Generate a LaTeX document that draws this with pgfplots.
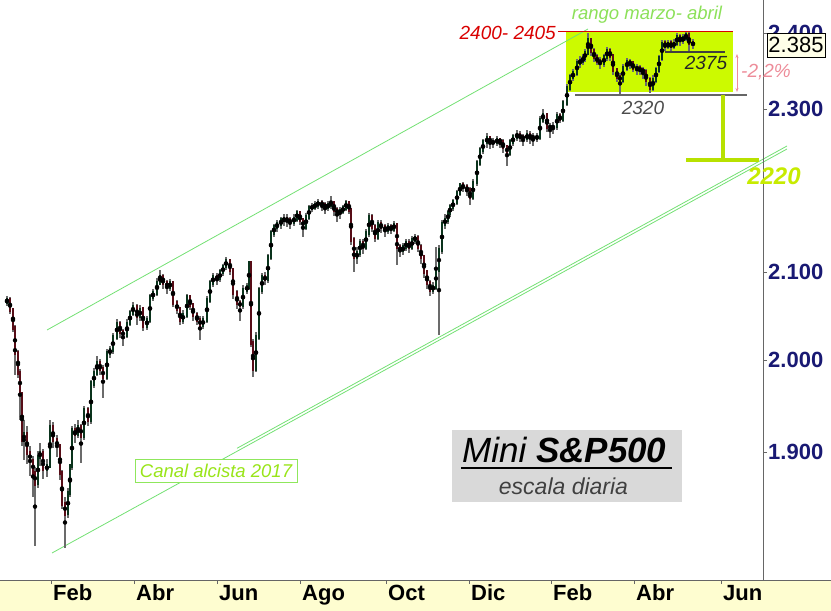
\documentclass[border=0pt]{standalone}
\usepackage{pgfplots}
\pgfplotsset{compat=1.18}
\usepackage{pgfplotstable}
\usepackage{fontspec}
\setmainfont{Liberation Sans}
\usetikzlibrary{arrows.meta}
\pgfdeclarelayer{bg}
\pgfsetlayers{bg,main}
\definecolor{band}{RGB}{254,253,208}
\definecolor{upc}{rgb}{0.04,0.20,0.11}
\definecolor{dnc}{rgb}{0.34,0.05,0.09}
\definecolor{wick}{rgb}{0.42,0.42,0.42}
\definecolor{navy}{rgb}{0.10,0.10,0.45}
\definecolor{chan}{rgb}{0.45,0.88,0.45}
\definecolor{lime}{RGB}{204,250,0}
\definecolor{limetxt}{rgb}{0.78,0.92,0.0}
\definecolor{canaltxt}{rgb}{0.60,0.90,0.10}
\definecolor{rangotxt}{rgb}{0.55,0.88,0.35}
\definecolor{pinkc}{rgb}{0.93,0.55,0.60}
\definecolor{boxgray}{rgb}{0.85,0.85,0.85}
\definecolor{pricebox}{RGB}{255,255,232}

% daily candles: x = session position, o h l c = open high low close
\pgfplotstableread{
x o h l c
7 2065 2073 2061 2068
10 2068 2071 2052 2057
13 2057 2059 2031 2036
15 2036 2039 1983 2008
18 2008 2011 1980 1986
20 1986 1990 1934 1963
22 1963 1965 1906 1913
24 1913 1934 1892 1919
27 1919 1928 1887 1899
30 1899 1906 1875 1891
33 1891 1896 1853 1878
35 1878 1884 1803 1867
38 1867 1901 1862 1895
40 1895 1910 1885 1899
43 1899 1903 1872 1882
47 1882 1893 1874 1885
50 1885 1934 1883 1927
53 1927 1932 1904 1913
57 1913 1918 1895 1906
60 1906 1909 1870 1878
62 1878 1881 1841 1846
65 1846 1853 1801 1836
68 1836 1862 1831 1857
70 1857 1887 1853 1885
72 1885 1928 1881 1923
75 1923 1930 1910 1919
78 1919 1934 1915 1927
81 1927 1930 1888 1917
84 1917 1950 1913 1945
88 1945 1949 1928 1934
91 1934 1978 1930 1974
94 1974 1991 1969 1986
97 1986 2004 1982 1997
100 1997 2001 1983 1990
103 1990 1994 1958 1981
107 1981 2012 1978 2008
110 2008 2016 2002 2011
113 2011 2030 2006 2026
117 2026 2046 2022 2041
120 2041 2044 2025 2031
123 2031 2035 2016 2028
127 2028 2046 2025 2041
130 2041 2057 2038 2053
133 2053 2066 2049 2060
137 2060 2063 2039 2049
140 2049 2062 2044 2057
143 2057 2060 2032 2038
147 2038 2050 2034 2045
150 2045 2075 2042 2071
153 2071 2081 2067 2076
157 2076 2093 2073 2088
160 2088 2103 2085 2095
163 2095 2098 2081 2088
167 2088 2091 2075 2083
170 2083 2092 2078 2088
173 2088 2090 2060 2064
177 2064 2068 2052 2057
180 2057 2060 2039 2045
183 2045 2056 2040 2051
187 2051 2075 2047 2071
190 2071 2073 2056 2062
193 2062 2065 2044 2051
197 2051 2054 2039 2045
200 2045 2049 2022 2039
203 2039 2050 2035 2045
207 2045 2072 2042 2068
210 2068 2091 2064 2088
213 2088 2099 2083 2095
217 2095 2099 2085 2093
220 2093 2104 2089 2100
223 2100 2110 2096 2107
226 2107 2118 2103 2114
230 2114 2116 2097 2103
233 2103 2105 2069 2076
237 2076 2079 2058 2064
240 2064 2068 2044 2062
243 2062 2085 2058 2080
247 2080 2088 2075 2083
249 2083 2114 2079 2111
251 2111 2113 2014 2019
253 2019 2023 1981 1990
256 1990 2031 1986 2026
259 2026 2083 2022 2080
262 2080 2099 2075 2095
265 2095 2101 2085 2092
268 2092 2122 2088 2118
271 2118 2150 2114 2147
274 2147 2158 2142 2154
277 2154 2162 2148 2158
281 2158 2166 2152 2162
284 2162 2170 2155 2164
287 2164 2169 2154 2162
290 2162 2166 2152 2160
294 2160 2170 2155 2164
297 2164 2175 2160 2171
300 2171 2173 2156 2162
303 2162 2164 2142 2154
306 2154 2171 2150 2166
309 2166 2181 2162 2177
312 2177 2183 2172 2178
315 2178 2185 2174 2181
318 2181 2188 2176 2183
322 2183 2186 2173 2181
325 2181 2184 2169 2178
328 2178 2185 2173 2181
331 2181 2191 2176 2183
334 2183 2185 2167 2175
337 2175 2178 2160 2171
340 2171 2178 2164 2173
343 2173 2181 2169 2177
346 2177 2187 2173 2183
349 2183 2185 2170 2175
351 2175 2177 2132 2138
354 2138 2142 2100 2118
357 2118 2130 2110 2123
360 2123 2140 2118 2135
363 2135 2139 2122 2130
366 2130 2152 2126 2147
369 2147 2171 2142 2166
372 2166 2169 2148 2154
375 2154 2157 2136 2142
378 2142 2162 2138 2158
381 2158 2162 2147 2154
385 2154 2158 2142 2150
388 2150 2159 2146 2154
391 2154 2158 2145 2152
394 2152 2161 2148 2156
397 2156 2158 2109 2130
400 2130 2134 2118 2126
403 2126 2135 2120 2130
406 2130 2140 2125 2135
409 2135 2139 2123 2130
412 2130 2143 2126 2138
415 2138 2146 2134 2141
418 2141 2144 2124 2130
421 2130 2133 2110 2118
424 2118 2121 2093 2100
427 2100 2103 2081 2088
430 2088 2091 2073 2080
433 2080 2089 2075 2083
436 2083 2130 2079 2103
439 2103 2132 2028 2126
442 2126 2162 2122 2158
445 2158 2169 2152 2162
448 2162 2175 2157 2171
450 2171 2182 2166 2178
453 2178 2188 2173 2184
457 2184 2199 2180 2195
460 2195 2208 2191 2205
463 2205 2209 2196 2202
467 2202 2206 2191 2199
470 2199 2202 2181 2190
473 2190 2212 2186 2208
477 2208 2236 2204 2232
480 2232 2252 2228 2248
483 2248 2262 2243 2258
487 2258 2270 2251 2264
490 2264 2266 2249 2258
493 2258 2264 2251 2259
497 2259 2266 2253 2261
500 2261 2264 2251 2259
503 2259 2262 2245 2252
507 2252 2255 2229 2245
510 2245 2262 2241 2258
513 2258 2269 2253 2265
517 2265 2274 2260 2267
520 2267 2272 2258 2265
523 2265 2269 2253 2263
527 2263 2273 2258 2267
530 2267 2272 2256 2265
533 2265 2270 2253 2264
537 2264 2270 2258 2265
540 2265 2292 2261 2286
543 2286 2300 2282 2293
547 2293 2295 2271 2278
550 2278 2283 2264 2277
553 2277 2284 2268 2278
557 2278 2296 2274 2291
560 2291 2295 2282 2288
563 2288 2312 2284 2308
567 2308 2332 2304 2328
570 2328 2346 2324 2342
573 2342 2352 2336 2347
577 2347 2365 2343 2360
580 2360 2369 2354 2363
583 2363 2372 2358 2367
585 2367 2378 2362 2373
588 2373 2400 2370 2390
591 2390 2393 2370 2376
594 2376 2380 2361 2368
597 2368 2372 2357 2363
600 2363 2368 2352 2360
604 2360 2372 2355 2368
607 2368 2382 2363 2376
610 2376 2380 2363 2370
613 2370 2372 2344 2351
617 2351 2354 2335 2342
620 2342 2347 2320 2338
623 2338 2359 2334 2354
627 2354 2367 2350 2361
630 2361 2366 2352 2360
633 2360 2363 2348 2354
637 2354 2359 2345 2353
640 2353 2358 2344 2351
643 2351 2355 2339 2349
646 2349 2352 2330 2338
650 2338 2342 2321 2328
653 2328 2344 2324 2338
656 2338 2355 2334 2351
659 2351 2371 2347 2367
662 2367 2390 2363 2386
665 2386 2390 2376 2383
668 2383 2391 2378 2386
671 2386 2390 2376 2383
674 2383 2392 2378 2386
677 2386 2400 2382 2395
680 2395 2398 2383 2390
683 2390 2399 2385 2393
686 2393 2403 2389 2397
689 2397 2401 2376 2386
693 2386 2392 2379 2385
}\candles

\begin{document}
\begin{tikzpicture}[x=1pt,y=1pt]
\begin{axis}[
  at={(0,31)}, anchor=south west,
  scale only axis, width=763pt, height=580pt,
  xmin=0, xmax=763,
  y coord trafo/.code={\pgfmathparse{1000*ln(#1)}},
  y coord inv trafo/.code={\pgfmathparse{exp(#1/1000)}},
  ymin=1769.1, ymax=2444.6,
  clip=false,
  axis x line*=bottom, axis y line*=right,
  axis line style={black!60, line width=0.8pt},
  tick align=outside, major tick length=4pt,
  tick style={black!60, line width=0.8pt},
  xtick={51,134,217,300,386,469,551,634,721},
  xticklabels={Feb,Abr,Jun,Ago,Oct,Dic,Feb,Abr,Jun},
  xticklabel style={anchor=base west, inner sep=0pt, xshift=2pt, yshift=-17pt,
     font=\bfseries\fontsize{22}{24}\selectfont, text=black},
  ytick={1900,2000,2100,2300,2400},
  yticklabels={1.900,2.000,2.100,2.300,2.400},
  yticklabel style={anchor=west, inner sep=0pt, xshift=1pt,
     font=\bfseries\fontsize{22}{24}\selectfont, text=navy},
]
\coordinate (sw) at (rel axis cs:0,0);
% wicks (high-low), on the logarithmic price scale
\addplot[forget plot, only marks, mark=none,
  error bars/.cd, y dir=both, y explicit, error mark=none,
  error bar style={line width=1.1pt, color=wick}]
  table[x=x, y expr={sqrt(\thisrow{h})*sqrt(\thisrow{l})},
        y error expr={500*ln(\thisrow{h}/\thisrow{l})}] {\candles};
% up bodies (open-close)
\addplot[forget plot, only marks, mark=none,
  restrict expr to domain={\thisrow{c}-\thisrow{o}}{0:10000},
  error bars/.cd, y dir=both, y explicit, error mark=none,
  error bar style={line width=2.3pt, color=upc}]
  table[x=x, y expr={sqrt(\thisrow{o})*sqrt(\thisrow{c})},
        y error expr={500*abs(ln(\thisrow{c}/\thisrow{o}))+1.1}] {\candles};
% down bodies
\addplot[forget plot, only marks, mark=none,
  restrict expr to domain={\thisrow{c}-\thisrow{o}}{-10000:-0.001},
  error bars/.cd, y dir=both, y explicit, error mark=none,
  error bar style={line width=2.3pt, color=dnc}]
  table[x=x, y expr={sqrt(\thisrow{o})*sqrt(\thisrow{c})},
        y error expr={500*abs(ln(\thisrow{c}/\thisrow{o}))+1.1}] {\candles};
\end{axis}

\begin{scope}[shift={(sw)}, yshift=-31pt]
\begin{pgfonlayer}{bg}
% date band
\fill[band] (0,0) rectangle (831,31);
\draw[black!60, line width=0.8pt] (8,31) -- (831,31);
% range box (March-April)
\fill[lime] (566,519) rectangle (733,580);
% channel lines
\draw[chan, line width=0.8pt] (47,281) -- (588,582);
\draw[chan, line width=0.8pt] (52,58) -- (787,462);
\draw[chan, line width=0.8pt] (237,162.7) -- (787,465);
\end{pgfonlayer}

% range annotations
\draw[red!85!black, line width=1pt] (558,579) -- (733,579);
\node[anchor=east, inner sep=0pt, text=red!85!black, font=\itshape\fontsize{19}{21}\selectfont] at (556,578) {2400- 2405};
\node[inner sep=0pt, text=rangotxt, font=\itshape\fontsize{18.5}{20}\selectfont] at (647,596) {rango marzo- abril};
\draw[black!60, line width=1.2pt] (575,516) -- (747,516);
\node[inner sep=0pt, text=black!70, font=\itshape\fontsize{19}{21}\selectfont] at (643,503) {2320};
\draw[black!75, line width=1.5pt] (665,559) -- (725,559);
\node[inner sep=0pt, text=black!85, font=\itshape\fontsize{19}{21}\selectfont] at (706,548) {2375};
\draw[pinkc, line width=0.7pt, {Stealth[length=4pt]}-{Stealth[length=4pt]}] (737,557) -- (737,519);
\node[inner sep=0pt, text=pinkc, font=\itshape\fontsize{19}{21}\selectfont] at (766,539) {-2,2\%};
\draw[lime!90!black, line width=4pt] (723,516) -- (723,451);
\draw[lime!90!black, line width=4pt] (686,451) -- (759,451);
\node[inner sep=0pt, text=limetxt, font=\bfseries\itshape\fontsize{24}{26}\selectfont] at (774,435) {2220};

% canal label
\draw[chan!80!yellow, line width=0.8pt, fill=white] (135,152) rectangle (297,129);
\node[inner sep=0pt, text=canaltxt, font=\itshape\fontsize{18.5}{20}\selectfont] at (216,140.5) {Canal alcista 2017};

% title box
\fill[boxgray] (452,181) rectangle (682,109);
\node[anchor=base west, inner sep=0pt, font=\fontsize{35}{38}\selectfont] at (462,148) {\itshape Mini \bfseries\itshape S\&P500};
\draw[black, line width=2pt] (461,143) -- (672,143);
\node[anchor=base, inner sep=0pt, text=black!75, font=\itshape\fontsize{23}{25}\selectfont] at (563.5,116) {escala diaria};

% last price box
\draw[black, line width=0.8pt, fill=pricebox] (767,554) rectangle (825,578);
\node[inner sep=0pt, font=\fontsize{22}{24}\selectfont] at (796,566) {2.385};
\end{scope}
\pgfresetboundingbox
\path[use as bounding box, shift={(sw)}, yshift=-31pt] (0,0) rectangle (831,611);
\end{tikzpicture}
\end{document}
